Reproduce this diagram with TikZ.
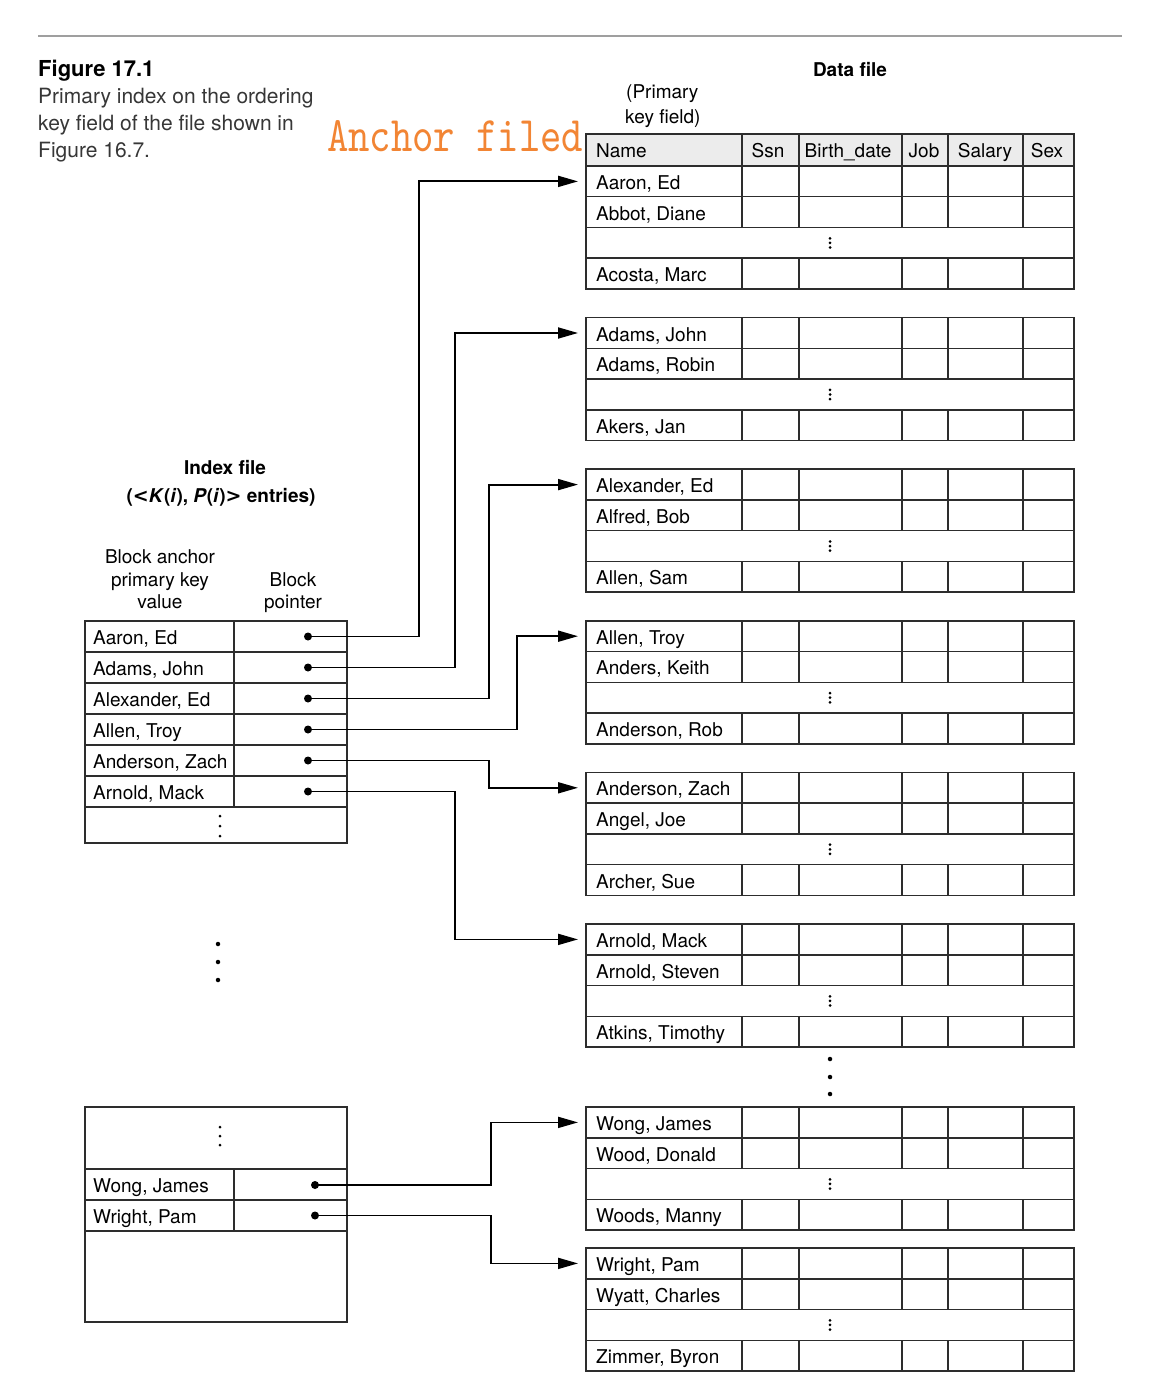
\documentclass[tikz,border=0pt]{standalone}
\usepackage{fontspec}
\setmainfont{TeX Gyre Heros}
\newfontfamily\djv{DejaVu Sans}
\usetikzlibrary{arrows.meta}
\definecolor{anch}{RGB}{242,133,52}
\definecolor{tline}{RGB}{45,45,45}
\definecolor{capgray}{RGB}{55,55,55}
\definecolor{hdr}{RGB}{236,236,236}
\tikzset{
  tab/.style={draw=tline, line width=1.5pt},
  cell/.style={anchor=base west, inner sep=0pt, font=\fontsize{19}{23}\selectfont},
  hcell/.style={anchor=base, inner sep=0pt, font=\fontsize{19}{23}\selectfont},
  lbl/.style={anchor=base, inner sep=0pt, font=\fontsize{19}{23}\selectfont},
  captxt/.style={anchor=base west, inner sep=0pt, text=capgray, font=\fontsize{21}{27}\selectfont},
  ptr/.style={circle, fill=black, inner sep=0pt, minimum size=8pt},
  sdot/.style={circle, fill=black, inner sep=0pt, minimum size=3pt},
  bdot/.style={circle, fill=black, inner sep=0pt, minimum size=4.5pt},
  conn/.style={draw=black, line width=1.8pt},
  arr/.style={conn, -{Triangle[length=20pt, width=11pt]}}
}
\newcommand\dblock[5]{%
  \pgfmathsetmacro\ya{#2}%
  \pgfmathsetmacro\yb{#2+30.75}%
  \pgfmathsetmacro\yc{#2+61.5}%
  \pgfmathsetmacro\yd{#2+92.25}%
  \pgfmathsetmacro\ye{#2+123}%
  \draw[tab] (586,\ya) rectangle (1074,\ye);
  \draw[tab] (586,\yb) -- (1074,\yb) (586,\yc) -- (1074,\yc) (586,\yd) -- (1074,\yd);
  \foreach \cx in {742,799,902,948,1023} {\draw[tab] (\cx,\ya) -- (\cx,\yc) (\cx,\yd) -- (\cx,\ye);}
  \node[cell] (#1r1) at (596,\ya+23.4) {#3};
  \node[cell] (#1r2) at (596,\yb+23.4) {#4};
  \node[cell] (#1r4) at (596,\yd+23.4) {#5};
  \node[sdot] (#1e1) at (830,\yc+10.8) {};
  \node[sdot] (#1e2) at (830,\yc+15.4) {};
  \node[sdot] (#1e3) at (830,\yc+20) {};
  \coordinate (#1) at (578,\ya+15.4);
}
\begin{document}
\begin{tikzpicture}[x=1pt, y=-1pt]
\useasboundingbox (0,0) rectangle (1151,1396);
\fill[white] (0,0) rectangle (1151,1396);
% top rule
\draw[draw=gray!75, line width=2pt] (38,36) -- (1122,36);
% caption
\node[anchor=base west, inner sep=0pt, font=\bfseries\fontsize{22}{26}\selectfont] (figt) at (38,77) {Figure 17.1};
\node[captxt] (c1) at (38,104) {Primary index on the ordering};
\node[captxt] (c2) at (38,131) {key field of the file shown in};
\node[captxt] (c3) at (38,158) {Figure 16.7.};
% anchor filed
\node[anchor=base west, inner sep=0pt, text=anch] (anc) at (327,152) {\resizebox{256pt}{31pt}{\ttfamily Anchor filed}};
% data file labels
\node[lbl, font=\bfseries\fontsize{19}{23}\selectfont] (dft) at (850,77) {Data file};
\node[cell] (pk1) at (626,99) {(Primary};
\node[cell] (pk2) at (625,124) {key field)};
% header
\fill[hdr] (586,134) rectangle (1074,166);
\draw[tab] (586,134) rectangle (1074,166);
\foreach \cx in {742,799,902,948,1023} {\draw[tab] (\cx,134) -- (\cx,166);}
\node[cell] (hName) at (596,158) {Name};
\node[hcell] (hSsn) at (768,158) {Ssn};
\node[hcell] (hBd) at (848,158) {Birth\_date};
\node[hcell] (hJob) at (924,158) {Job};
\node[hcell] (hSal) at (985,158) {Salary};
\node[hcell] (hSex) at (1047,158) {Sex};
% data blocks
\dblock{t1}{166}{Aaron, Ed}{Abbot, Diane}{Acosta, Marc}
\dblock{t2}{317.6}{Adams, John}{Adams, Robin}{Akers, Jan}
\dblock{t3}{469.2}{Alexander, Ed}{Alfred, Bob}{Allen, Sam}
\dblock{t4}{620.8}{Allen, Troy}{Anders, Keith}{Anderson, Rob}
\dblock{t5}{772.4}{Anderson, Zach}{Angel, Joe}{Archer, Sue}
\dblock{t6}{924}{Arnold, Mack}{Arnold, Steven}{Atkins, Timothy}
\dblock{t7}{1107}{Wong, James}{Wood, Donald}{Woods, Manny}
\dblock{t8}{1248}{Wright, Pam}{Wyatt, Charles}{Zimmer, Byron}
% big dots data file
\node[bdot] (dd1) at (830,1059) {};
\node[bdot] (dd2) at (830,1077) {};
\node[bdot] (dd3) at (830,1094) {};
% index file labels
\node[lbl, font=\bfseries\fontsize{19}{23}\selectfont] (ift) at (225,474) {Index file};
\node[lbl, font=\bfseries\fontsize{19}{23}\selectfont] (ifs) at (221,502) {({\djv\bfseries <}\textit{K}(\textit{i}), \textit{P}(\textit{i}){\djv\bfseries >} entries)};
\node[lbl] (ba1) at (160,563) {Block anchor};
\node[lbl] (ba2) at (160,586) {primary key};
\node[lbl] (ba3) at (160,608) {value};
\node[lbl] (bp1) at (293,586) {Block};
\node[lbl] (bp2) at (293,608) {pointer};
% index table 1
\draw[tab] (85,621) rectangle (347,843);
\foreach \yy in {652,683,714,745,776,807} {\draw[tab] (85,\yy) -- (347,\yy);}
\draw[tab] (234,621) -- (234,807);
\node[cell] (i1) at (93,644.3) {Aaron, Ed};
\node[cell] (i2) at (93,675.3) {Adams, John};
\node[cell] (i3) at (93,706.3) {Alexander, Ed};
\node[cell] (i4) at (93,737.3) {Allen, Troy};
\node[cell] (i5) at (93,768.3) {Anderson, Zach};
\node[cell] (i6) at (93,799.3) {Arnold, Mack};
\node[ptr] (p1) at (308,636.5) {};
\node[ptr] (p2) at (308,667.5) {};
\node[ptr] (p3) at (308,698.5) {};
\node[ptr] (p4) at (308,729.5) {};
\node[ptr] (p5) at (308,760.5) {};
\node[ptr] (p6) at (308,791.5) {};
\node[sdot] (ie1) at (220,816) {};
\node[sdot] (ie2) at (220,826) {};
\node[sdot] (ie3) at (220,836) {};
% big dots index
\node[bdot] (id1) at (218,944) {};
\node[bdot] (id2) at (218,962) {};
\node[bdot] (id3) at (218,980) {};
% index table 2
\draw[tab] (85,1107) rectangle (347,1322);
\foreach \yy in {1169,1200,1231} {\draw[tab] (85,\yy) -- (347,\yy);}
\draw[tab] (234,1169) -- (234,1231);
\node[sdot] (je1) at (220,1127) {};
\node[sdot] (je2) at (220,1136) {};
\node[sdot] (je3) at (220,1145) {};
\node[cell] (i7) at (93,1192.3) {Wong, James};
\node[cell] (i8) at (93,1223.3) {Wright, Pam};
\node[ptr] (p7) at (315,1185) {};
\node[ptr] (p8) at (315,1215.5) {};
% bend columns
\coordinate (k1) at (419,0);
\coordinate (k2) at (455,0);
\coordinate (k3) at (489,0);
\coordinate (k4) at (517,0);
\coordinate (k7) at (491,0);
% connectors
\draw[arr] (p1.center) -| (k1 |- t1) -- (t1);
\draw[arr] (p2.center) -| (k2 |- t2) -- (t2);
\draw[arr] (p3.center) -| (k3 |- t3) -- (t3);
\draw[arr] (p4.center) -| (k4 |- t4) -- (t4);
\draw[arr] (p5.center) -| (k3 |- t5) -- (t5);
\draw[arr] (p6.center) -| (k2 |- t6) -- (t6);
\draw[arr] (p7.center) -| (k7 |- t7) -- (t7);
\draw[arr] (p8.center) -| (k7 |- t8) -- (t8);
\end{tikzpicture}
\end{document}
